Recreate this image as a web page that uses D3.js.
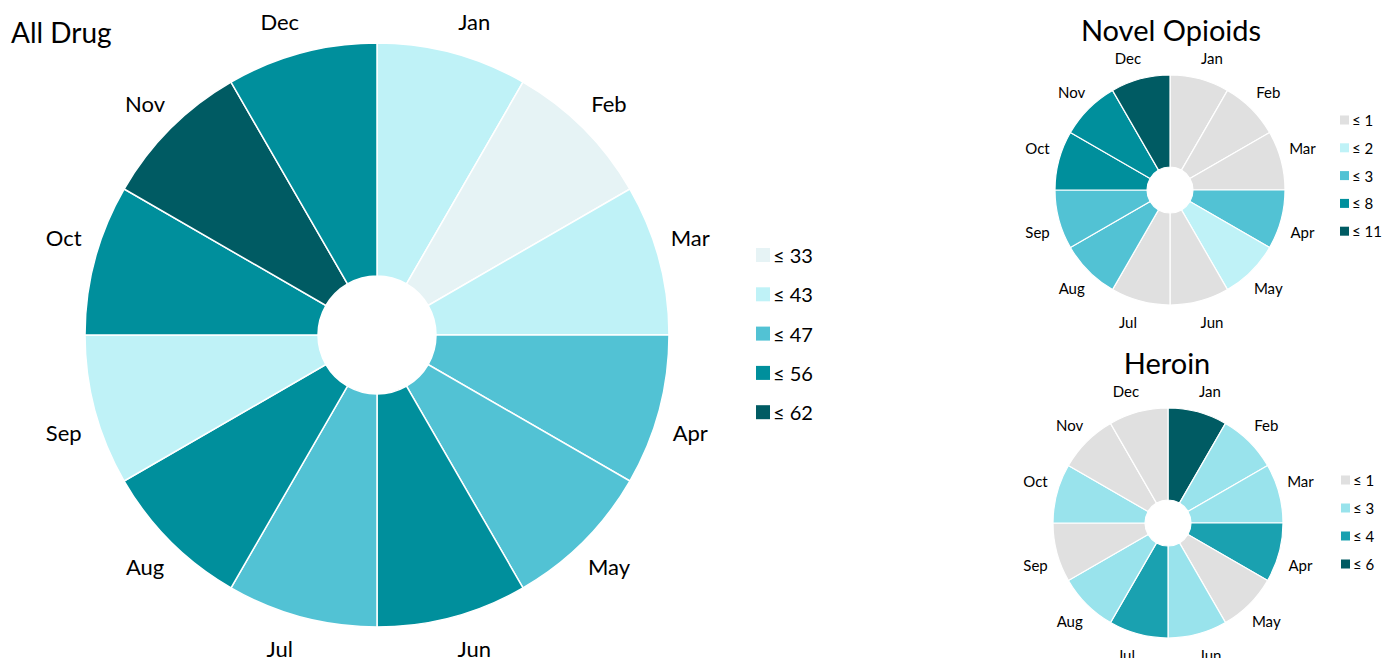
<!DOCTYPE html>
<html>
<head>
<meta charset="utf-8">
<script src="https://cdn.jsdelivr.net/npm/d3@7"></script>
<style>
  body { margin: 0; background: #fff; }
  svg text { font-family: Lato, "Open Sans", sans-serif; fill: #000; }
</style>
</head>
<body>
<svg id="chart" width="1382" height="658"></svg>
<script>
const months = ['Jan', 'Feb', 'Mar', 'Apr', 'May', 'Jun', 'Jul', 'Aug', 'Sep', 'Oct', 'Nov', 'Dec']

// All Drug
const allDrugValues = [40, 33, 42, 46, 45, 52, 47, 54, 43, 56, 62, 50]
const allDrugBreaks = [33, 43, 47, 56, 62]
const allDrugColors = ['#e6f3f5', '#bff2f7', '#52c2d4', '#008f9c', '#005b63']

// Novel Opioids
const novelValues = [0, 1, 1, 3, 2, 0, 1, 3, 3, 6, 8, 11]
const novelBreaks = [1, 2, 3, 8, 11]
const novelColors = ['#e0e0e0', '#bff2f7', '#52c2d4', '#008f9c', '#005b63']

// Heroin
const heroinValues = [6, 2, 3, 4, 1, 2, 4, 3, 0, 2, 1, 0]
const heroinBreaks = [1, 3, 4, 6]
const heroinColors = ['#e0e0e0', '#99e3ec', '#1aa1b0', '#005b63']

const svg = d3.select('#chart')

function drawWheel (opts) {
  const g = svg.append('g')
    .attr('transform', `translate(${opts.cx}, ${opts.cy})`)

  const angle = d3.scaleBand()
    .domain(months)
    .range([0, 2 * Math.PI])
    .padding(0)

  // value -> colour bin (value <= break)
  const color = d3.scaleThreshold()
    .domain(opts.breaks.slice(0, -1).map(b => b + 0.5))
    .range(opts.colors)

  const arc = d3.arc()
    .innerRadius(opts.inner)
    .outerRadius(opts.outer)
    .startAngle(d => angle(d.month))
    .endAngle(d => angle(d.month) + angle.bandwidth())

  const data = months.map((m, i) => ({ month: m, value: opts.values[i] }))

  g.selectAll('path.slice')
    .data(data)
    .join('path')
    .attr('class', 'slice')
    .attr('d', arc)
    .attr('fill', d => color(d.value))
    .attr('stroke', '#fff')
    .attr('stroke-width', opts.strokeWidth)

  // labels sit a bit off the slice middle, pushed toward the diagonals like excel does
  const labelAngle = d => {
    const a = angle(d.month) + angle.bandwidth() / 2
    return a + opts.labelShift * Math.PI / 180 * Math.sin(4 * a)
  }

  g.selectAll('text.month')
    .data(data)
    .join('text')
    .attr('class', 'month')
    .attr('x', d => Math.sin(labelAngle(d)) * opts.labelRadius)
    .attr('y', d => -Math.cos(labelAngle(d)) * opts.labelRadius)
    .attr('text-anchor', 'middle')
    .attr('dominant-baseline', 'central')
    .style('font-size', `${opts.labelSize}px`)
    .text(d => d.month)

  // title
  svg.append('text')
    .attr('x', opts.titleX)
    .attr('y', opts.titleY)
    .attr('text-anchor', opts.titleAnchor)
    .style('font-size', `${opts.titleSize}px`)
    .text(opts.title)

  // legend
  const legend = svg.append('g')
    .attr('transform', `translate(${opts.legendX}, ${opts.legendY})`)

  const item = legend.selectAll('g')
    .data(opts.breaks)
    .join('g')
    .attr('transform', (d, i) => `translate(0, ${i * opts.legendStep})`)

  item.append('rect')
    .attr('x', 0)
    .attr('y', -opts.swatch / 2)
    .attr('width', opts.swatch)
    .attr('height', opts.swatch)
    .attr('fill', (d, i) => opts.colors[i])

  item.append('text')
    .attr('x', opts.swatch + 3)
    .attr('y', 0)
    .attr('dominant-baseline', 'central')
    .style('font-size', `${opts.legendSize}px`)
    .text(d => `≤ ${d}`)
}

drawWheel({
  cx: 377, cy: 335, inner: 59, outer: 292, labelRadius: 328, labelShift: 2.6, labelSize: 22, strokeWidth: 1.5,
  values: allDrugValues, breaks: allDrugBreaks, colors: allDrugColors,
  title: 'All Drug', titleX: 11, titleY: 43, titleAnchor: 'start', titleSize: 28,
  legendX: 756, legendY: 255, legendStep: 39.3, swatch: 14, legendSize: 20
})

drawWheel({
  cx: 1170, cy: 190, inner: 23, outer: 115, labelRadius: 139, labelShift: 3, labelSize: 15, strokeWidth: 1.2,
  values: novelValues, breaks: novelBreaks, colors: novelColors,
  title: 'Novel Opioids', titleX: 1171, titleY: 41, titleAnchor: 'middle', titleSize: 29,
  legendX: 1340, legendY: 120, legendStep: 27.8, swatch: 9, legendSize: 15
})

drawWheel({
  cx: 1168, cy: 523, inner: 23, outer: 115, labelRadius: 139, labelShift: 3, labelSize: 15, strokeWidth: 1.2,
  values: heroinValues, breaks: heroinBreaks, colors: heroinColors,
  title: 'Heroin', titleX: 1167, titleY: 374, titleAnchor: 'middle', titleSize: 29,
  legendX: 1341, legendY: 480, legendStep: 28, swatch: 9, legendSize: 15
})
</script>
</body>
</html>
